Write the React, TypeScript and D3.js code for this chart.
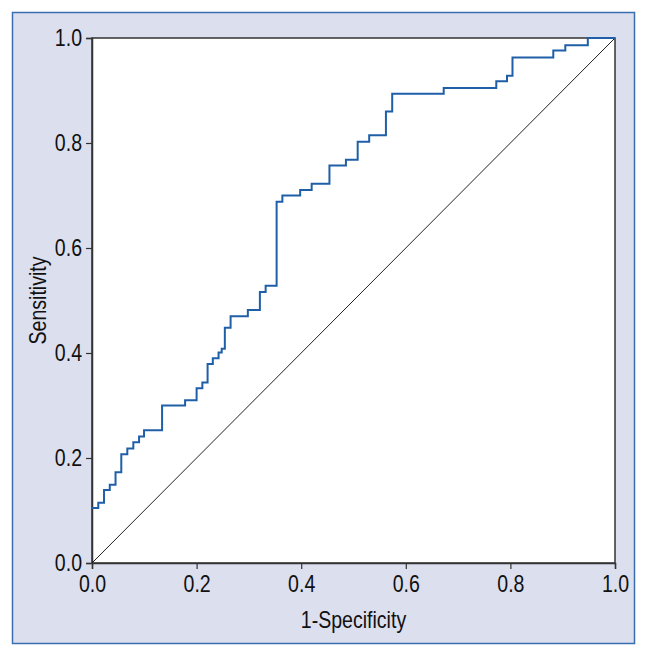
import React, { useEffect, useRef } from "react";
import * as d3 from "d3";

// ROC curve: each point starts a horizontal run
const fpr = [0, 0.012, 0.023, 0.034, 0.045, 0.056, 0.0675, 0.079, 0.09, 0.0995, 0.134, 0.178, 0.2, 0.211, 0.221, 0.231, 0.242, 0.248, 0.254, 0.265, 0.298, 0.321, 0.332, 0.353, 0.364, 0.398, 0.42, 0.454, 0.4855, 0.508, 0.53, 0.562, 0.574, 0.6725, 0.773, 0.7935, 0.804, 0.882, 0.905, 0.948, 1.0];
const tpr = [0.105, 0.115, 0.139, 0.149, 0.173, 0.207, 0.218, 0.23, 0.241, 0.253, 0.3, 0.31, 0.333, 0.344, 0.379, 0.39, 0.401, 0.408, 0.448, 0.47, 0.482, 0.516, 0.528, 0.688, 0.7, 0.7105, 0.7225, 0.757, 0.768, 0.8025, 0.8146, 0.86, 0.894, 0.905, 0.9175, 0.928, 0.963, 0.976, 0.986, 1.0, 1.0];
const ticks = [0, 0.2, 0.4, 0.6, 0.8, 1.0];

const W = 648;
const H = 656;
const left = 92;
const top = 38;
const pw = 523;
const ph = 525;
const font = "'Liberation Sans', Arial, sans-serif";
const fs = "23px";
const narrow = 0.85; // fake the condensed face

const App = () => {
  const svgRef = useRef<SVGSVGElement>(null);

  useEffect(() => {
    const svg = d3.select(svgRef.current);
    svg.selectAll("*").remove();

    // outer frame
    svg
      .append("rect")
      .attr("x", 12.5)
      .attr("y", 12.5)
      .attr("width", 622)
      .attr("height", 631)
      .attr("fill", "#dcdfee")
      .attr("stroke", "#3a6eae")
      .attr("stroke-width", 1.5);

    const x = d3.scaleLinear().domain([0, 1]).range([0, pw]);
    const y = d3.scaleLinear().domain([0, 1]).range([ph, 0]);

    const g = svg.append("g").attr("transform", `translate(${left},${top})`);

    g.append("rect")
      .attr("width", pw)
      .attr("height", ph)
      .attr("fill", "#fff")
      .attr("stroke", "#333")
      .attr("stroke-width", 1.5);

    const xAxis = g
      .append("g")
      .attr("transform", `translate(0,${ph})`)
      .call(d3.axisBottom(x).tickValues(ticks).tickFormat(d3.format(".1f")).tickSize(6).tickPadding(7));
    const yAxis = g
      .append("g")
      .call(d3.axisLeft(y).tickValues(ticks).tickFormat(d3.format(".1f")).tickSize(6).tickPadding(3));

    [xAxis, yAxis].forEach((a) => {
      a.select(".domain").attr("stroke", "#333").attr("stroke-width", 1.5);
      a.selectAll(".tick line").attr("stroke", "#333").attr("stroke-width", 1.2);
      a.selectAll(".tick text")
        .attr("fill", "#111")
        .attr("transform", `scale(${narrow},1)`)
        .style("font-family", font)
        .style("font-size", fs);
    });
    // keep the y labels right edge next to the tick after scaling
    yAxis.selectAll(".tick text").attr("x", -10 / narrow);

    // reference diagonal
    g.append("line")
      .attr("x1", x(0))
      .attr("y1", y(0))
      .attr("x2", x(1))
      .attr("y2", y(1))
      .attr("stroke", "#222")
      .attr("stroke-width", 1);

    const pts = fpr.map((f, i) => [f, tpr[i]] as [number, number]);
    const line = d3
      .line<[number, number]>()
      .x((d) => x(d[0]))
      .y((d) => y(d[1]))
      .curve(d3.curveStepAfter);

    g.append("path")
      .datum(pts)
      .attr("d", line)
      .attr("fill", "none")
      .attr("stroke", "#1f5fa8")
      .attr("stroke-width", 2);

    svg
      .append("text")
      .attr("transform", `translate(${left + pw / 2},628) scale(${narrow},1)`)
      .attr("text-anchor", "middle")
      .style("font-family", font)
      .style("font-size", fs)
      .attr("fill", "#111")
      .text("1-Specificity");

    svg
      .append("text")
      .attr("transform", `translate(46,${top + ph / 2}) rotate(-90) scale(${narrow},1)`)
      .attr("text-anchor", "middle")
      .style("font-family", font)
      .style("font-size", fs)
      .attr("fill", "#111")
      .text("Sensitivity");
  }, []);

  return (
    <svg
      ref={svgRef}
      width={W}
      height={H}
      style={{ position: "absolute", left: 0, top: 0, background: "#fff" }}
    />
  );
};

export default App;
